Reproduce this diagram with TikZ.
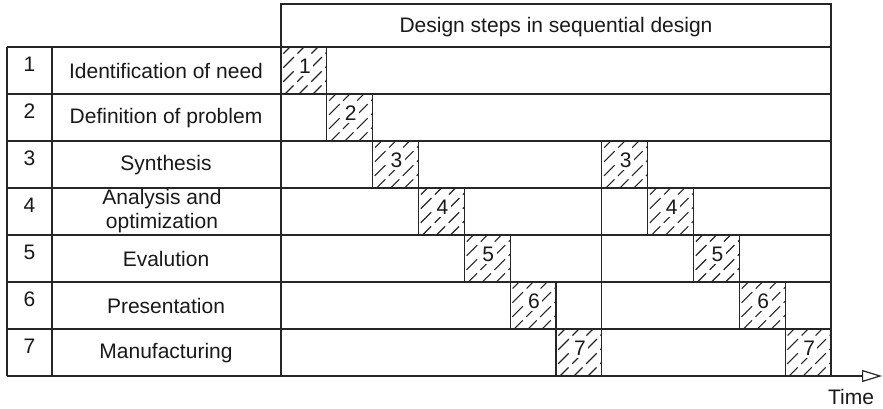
\documentclass[tikz,border=0pt]{standalone}
\usepackage{fontspec}
\setmainfont{Liberation Sans}
\usetikzlibrary{arrows.meta}
\begin{document}
\begin{tikzpicture}[x=1pt,y=-1pt,
  rule/.style={line width=1.2pt, black!85},
  hatchline/.style={line width=1.1pt, black!85, dash pattern=on 15pt off 5pt},
  lbl/.style={font=\fontsize{21}{24}\selectfont, inner sep=0pt, text=black!90},
  stepnum/.style={lbl, fill=white, inner sep=2.5pt},
]
\useasboundingbox (0,0) rectangle (883,408);
\def\u{45.833}

% hatched step boxes: column / step number (step number also gives the row)
\foreach \c/\r in {0/1,1/2,2/3,3/4,4/5,5/6,6/7,7/3,8/4,9/5,10/6,11/7} {
  \pgfmathsetmacro\xa{281+\c*\u}
  \pgfmathsetmacro\xb{\xa+\u}
  \pgfmathsetmacro\ya{47+(\r-1)*47}
  \pgfmathsetmacro\yb{\ya+47}
  \begin{scope}
    \clip (\xa,\ya) rectangle (\xb,\yb);
    \foreach \k in {-54,-40,...,56}
      \draw[hatchline] (\xa+\k,\yb+2) -- ++(54,-54);
  \end{scope}
  \node[stepnum] (s\c) at (\xa+\u/2+1,\ya+19) {\r};
  \draw[rule] (\xa,\ya) rectangle (\xb,\yb);
}

% header
\draw[rule] (281,4) rectangle (831,47);
\node[lbl] (head) at (556,27) {Design steps in sequential design};

% table rules
\foreach \i in {0,...,6}
  \draw[rule] (7,47+\i*47) -- (831,47+\i*47);
\draw[rule] (7,47) -- (7,376);
\draw[rule] (52,47) -- (52,376);
\draw[rule] (281,47) -- (281,376);
\draw[rule] (831,47) -- (831,376);
\draw[rule] (281+7*\u,141) -- (281+7*\u,376);

% row numbers and activity names
\foreach \r/\name in {1/Identification of need,2/Definition of problem,3/Synthesis,
  5/Evalution,6/Presentation,7/Manufacturing} {
  \node[lbl] (n\r) at (29.5,47*\r+17) {\r};
  \node[lbl] (a\r) at (166,47*\r+24) {\name};
}
\node[lbl] (n4) at (29.5,47*4+17) {4};
\node[lbl, align=center] (a4) at (162,47*4+23.5) {Analysis and\\optimization};

% time axis
\coordinate (t0) at (7,376);
\coordinate (t1) at (882,376);
\draw[rule, -{Triangle[open,length=20pt,width=12pt]}] (t0) -- (t1);
\node[lbl] (time) at (851,397) {Time};
\end{tikzpicture}
\end{document}
